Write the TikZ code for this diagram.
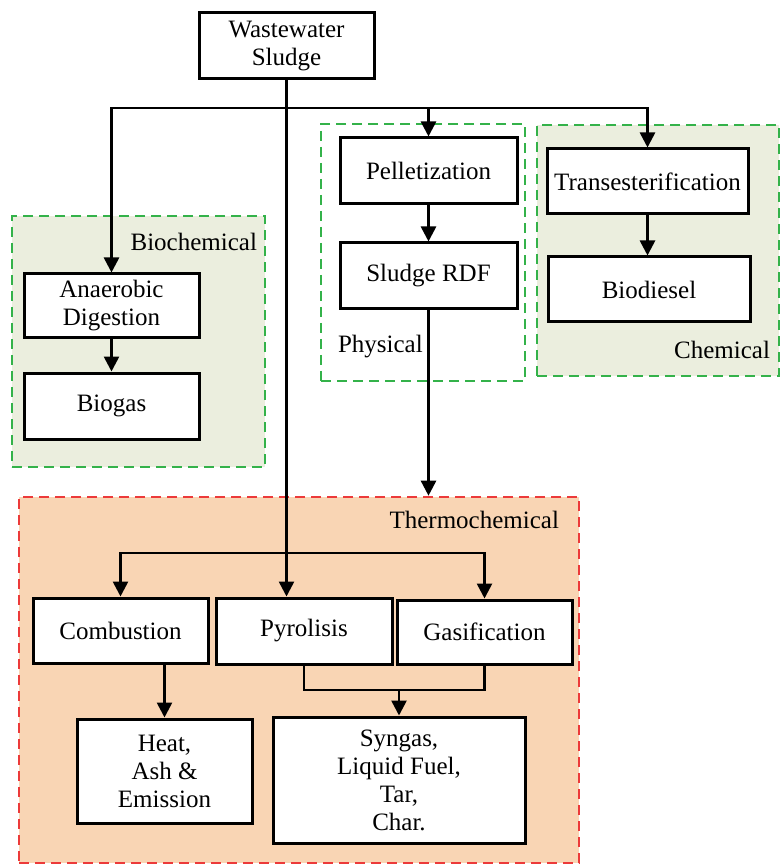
\documentclass[tikz,border=0pt]{standalone}
\usepackage{fontspec}
\setmainfont{Liberation Serif}
\usepackage{tikz}
\usetikzlibrary{arrows.meta}

\definecolor{grpgreen}{RGB}{52,178,74}
\definecolor{grpred}{RGB}{236,58,58}
\definecolor{greenfill}{RGB}{235,238,222}
\definecolor{thermofill}{RGB}{249,213,180}

\begin{document}
\begin{tikzpicture}[x=0.5pt, y=-0.5pt, >={Triangle[length=7.5pt,width=7.5pt]},
    every node/.style={font=\fontsize{12.5}{14}\selectfont},
    box/.style={draw, fill=white, line width=1.5pt, align=center, inner sep=0pt},
    frame/.style={draw, dashed, dash pattern=on 5pt off 3pt, line width=1.3pt, inner sep=0pt},
    greenframe/.style={frame, draw=grpgreen},
    redframe/.style={frame, draw=grpred, fill=thermofill},
    link/.style={line width=1.3pt}]
    \useasboundingbox (0,0) rectangle (781,865);

    % Frames {bio, phys, chem, thermo}
    \node [greenframe, fill=greenfill, minimum width=126.5pt, minimum height=125.5pt] (bio)    at (138.5,341.5) {};
    \node [greenframe, minimum width=102pt, minimum height=128.5pt]                   (phys)   at (423,252.5)   {};
    \node [greenframe, fill=greenfill, minimum width=121pt, minimum height=125.5pt]   (chem)   at (658,250.5)   {};
    \node [redframe, minimum width=280pt, minimum height=183pt]                       (thermo) at (299,680)     {};

    % Frame labels
    \node [anchor=east] (biolabel)    at (264,242) {Biochemical};
    \node [anchor=west] (physlabel)   at (331,347) {Physical};
    \node [anchor=east] (chemlabel)   at (777,350) {Chemical};
    \node [anchor=east] (thermolabel) at (566,520) {Thermochemical};

    % Nodes
    \node [box, minimum width=87.5pt, minimum height=33pt] (sludge)    at (286.5,46)  {Wastewater\\Sludge};
    \node [box, minimum width=87.5pt, minimum height=32pt] (anaer)     at (111.5,306) {Anaerobic\\Digestion};
    \node [box, minimum width=87.5pt, minimum height=33pt] (biogas)    at (111.5,406) {Biogas};
    \node [box, minimum width=88.5pt, minimum height=33pt] (pellet)    at (428.5,171) {Pelletization};
    \node [box, minimum width=88.5pt, minimum height=33pt] (rdf)       at (428.5,276) {Sludge RDF};
    \node [box, minimum width=100.5pt, minimum height=32.5pt] (trans)  at (647.5,181.5) {Transesterification};
    \node [box, minimum width=101pt, minimum height=32.5pt] (biodiesel) at (649,289.5) {Biodiesel};
    \node [box, minimum width=87.5pt, minimum height=32.5pt] (comb)    at (120.5,630.5) {Combustion};
    \node [box, minimum width=88pt, minimum height=33pt] (pyro)        at (304,631)   {Pyrolisis};
    \node [box, minimum width=87.5pt, minimum height=32pt] (gasif)     at (484.5,632) {Gasification};
    \node [box, minimum width=87.5pt, minimum height=52pt] (heat)      at (164.5,771) {Heat,\\Ash \&\\Emission};
    \node [box, minimum width=126pt, minimum height=63pt] (syngas)     at (399,780)   {Syngas,\\Liquid Fuel,\\Tar,\\Char.};

    \coordinate (split)  at (287,108);
    \coordinate (tsplit) at (287,553);
    \coordinate (merge)  at (399,690);

    % Paths
    \draw [link, ->] (sludge.south) -- (sludge.south |- pyro.north);
    \draw [link, ->] (split) -| (anaer.north);
    \draw [link, ->] (split) -| (pellet.north);
    \draw [link, ->] (split) -| (trans.north);
    \draw [link, ->] (anaer) -- (biogas);
    \draw [link, ->] (pellet) -- (rdf);
    \draw [link, ->] (trans.south) -- (trans.south |- biodiesel.north);
    \draw [link, ->] (rdf.south) -- (rdf.south |- thermo.north);
    \draw [link, ->] (tsplit) -| (comb.north);
    \draw [link, ->] (tsplit) -| (gasif.north);
    \draw [link, ->] (heat.north |- comb.south) -- (heat.north);
    \draw [link] (pyro.south) |- (merge) -| (gasif.south);
    \draw [link, ->] (merge) -- (syngas.north);

\end{tikzpicture}
\end{document}
